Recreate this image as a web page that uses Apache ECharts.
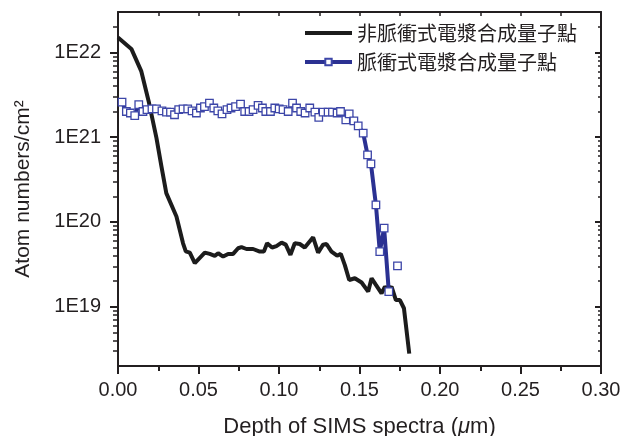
<!DOCTYPE html>
<html>
<head>
<meta charset="utf-8">
<script src="https://cdn.jsdelivr.net/npm/echarts@6/dist/echarts.min.js"></script>
<style>
  html, body { margin: 0; padding: 0; background: #fff; }
  #chart { width: 622px; height: 436px; }
</style>
</head>
<body>
<div id="chart"></div>
<script>
// depth (um) and concentration (atoms/cm2)
const plainName = '非脈衝式電漿合成量子點';
const plainDepth = [0.0, 0.0083, 0.0145, 0.0193, 0.0239, 0.027, 0.030, 0.0363, 0.0404, 0.0421,
  0.0446, 0.0477, 0.0539, 0.0570, 0.0601, 0.0622, 0.0653, 0.0684, 0.0715, 0.0746,
  0.0767, 0.0798, 0.0839, 0.0881, 0.0906, 0.0926, 0.0957, 0.0984, 0.1016, 0.1042,
  0.1071, 0.1098, 0.1129, 0.1160, 0.1212, 0.1243, 0.1274, 0.1295, 0.1326, 0.1361,
  0.1384, 0.1409, 0.1436, 0.1471, 0.1513, 0.1554, 0.1575, 0.1602, 0.1637, 0.1658,
  0.1678, 0.1699, 0.1726, 0.1751, 0.1776, 0.1809];
const plainConc = [1.5e22, 1.1e22, 5.97e21, 2.53e21, 9.76e20, 4.5e20, 2.19e20, 1.16e20, 5.6e19, 4.5e19,
  4.35e19, 3.27e19, 4.35e19, 4.2e19, 3.98e19, 4.28e19, 3.91e19, 4.2e19, 4.2e19, 4.9e19,
  5.05e19, 4.8e19, 4.8e19, 4.47e19, 4.47e19, 5.6e19, 5.0e19, 5.2e19, 5.7e19, 5.4e19,
  4.1e19, 5.6e19, 5.5e19, 5.0e19, 6.6e19, 4.35e19, 5.4e19, 5.5e19, 4.47e19, 4.0e19,
  4.2e19, 3.1e19, 2.07e19, 2.17e19, 1.93e19, 1.51e19, 2.17e19, 1.81e19, 1.44e19, 1.73e19,
  1.58e19, 1.73e19, 1.2e19, 1.2e19, 9.6e18, 2.8e18];

const pulsedName = '脈衝式電漿合成量子點';
const pulsedDepth = [0.0025, 0.0052, 0.0077, 0.0104, 0.0129, 0.0155, 0.0180, 0.0211, 0.0239, 0.0273,
  0.0301, 0.0326, 0.0351, 0.0377, 0.0404, 0.0433, 0.0460, 0.0487, 0.0512, 0.0537,
  0.0568, 0.0595, 0.0620, 0.0646, 0.0677, 0.0702, 0.0730, 0.0761, 0.0787, 0.0814,
  0.0839, 0.0870, 0.0897, 0.0918, 0.0947, 0.0974, 0.1001, 0.1025, 0.1057, 0.1084,
  0.1109, 0.1135, 0.1162, 0.1191, 0.1223, 0.1247, 0.1274, 0.1305, 0.1332, 0.1361,
  0.1382, 0.1415, 0.1436, 0.1465, 0.1492, 0.1523, 0.1550, 0.1571, 0.1602, 0.1626,
  0.1653, 0.1682, 0.1710, 0.1736];
// null = the line is broken there
const pulsedConc = [2.59e21, 2.01e21, 1.93e21, 1.80e21, 2.42e21, 2.01e21, 2.11e21, 2.16e21, 2.16e21, 2.05e21,
  1.98e21, 1.98e21, 1.84e21, 2.11e21, 2.16e21, 2.16e21, 2.05e21, 1.93e21, 2.21e21, 2.30e21,
  2.53e21, 2.21e21, 2.05e21, 1.88e21, 2.11e21, 2.21e21, 2.30e21, 2.46e21, 2.01e21, 2.01e21,
  2.11e21, 2.37e21, 2.21e21, 2.01e21, 2.01e21, 2.21e21, 2.16e21, 2.11e21, 2.01e21, 2.53e21,
  2.21e21, 2.01e21, 1.93e21, 2.21e21, 1.98e21, 1.71e21, 1.98e21, 1.98e21, 1.98e21, 1.93e21,
  2.01e21, 1.60e21, 1.88e21, 1.56e21, 1.36e21, 1.12e21, 6.2e20, 4.85e20, 1.59e20, 4.47e19,
  8.45e19, 1.51e19, null, 3.03e19];

const xTicks = [0, 0.05, 0.10, 0.15, 0.20, 0.25, 0.30];
const yDecades = [1e19, 1e20, 1e21, 1e22];

const yMin = 2e18, yMax = 3e22;
const yMinor = [];
[18, 19, 20, 21, 22].forEach(e => {
  for (let k = 2; k <= 9; k++) {
    const v = k * Math.pow(10, e);
    if (v >= yMin && v <= yMax) yMinor.push(v);
  }
});

const font = 'Liberation Sans, Arial, sans-serif';
const ink = '#231f20';
const black = '#1c1c1c';
const navy = '#2b3192';

const chart = echarts.init(document.getElementById('chart'), null, { renderer: 'canvas' });

const yAxisBase = (pos, show) => ({
  type: 'log',
  position: pos,
  min: yMin,
  max: yMax,
  splitLine: { show: false },
  axisLine: { show: show, lineStyle: { color: ink, width: 2 } },
});

chart.setOption({
  animation: false,
  backgroundColor: '#fff',
  textStyle: { fontFamily: font, color: ink },
  grid: { left: 118, right: 21, top: 12, bottom: 70, containLabel: false, outerBoundsMode: 'none' },
  legend: {
    orient: 'vertical',
    left: 298,
    top: 18,
    itemWidth: 47,
    itemHeight: 8,
    itemGap: 9,
    lineStyle: { width: 4 },
    data: [
      { name: plainName, itemStyle: { opacity: 0 } },
      { name: pulsedName },
    ],
    textStyle: { fontFamily: 'Noto Sans CJK TC', fontSize: 20, color: ink },
  },
  xAxis: [
    {
      type: 'value',
      min: 0,
      max: 0.30,
      interval: 0.05,
      name: 'Depth of SIMS spectra ({i|μ}m)',
      nameLocation: 'middle',
      nameGap: 50,
      nameTextStyle: {
        fontSize: 22, color: ink, fontFamily: font,
        rich: { i: { fontStyle: 'italic', fontSize: 22, fontFamily: font, color: ink } },
      },
      axisLine: { lineStyle: { color: ink, width: 2 } },
      axisTick: { length: 8, lineStyle: { color: ink, width: 2 } },
      minorTick: { show: true, splitNumber: 2, length: 5, lineStyle: { color: ink, width: 2 } },
      axisLabel: {
        fontSize: 20, color: ink, margin: 14,
        customValues: xTicks,
        formatter: v => v.toFixed(2),
      },
      splitLine: { show: false },
    },
    {
      type: 'value',
      position: 'top',
      min: 0,
      max: 0.30,
      interval: 0.025,
      axisLine: { lineStyle: { color: ink, width: 2 } },
      axisTick: { inside: true, length: 4, lineStyle: { color: ink, width: 1.5 } },
      axisLabel: { show: false },
      splitLine: { show: false },
    },
  ],
  yAxis: [
    Object.assign(yAxisBase('left', true), {
      name: 'Atom numbers/cm²',
      nameLocation: 'middle',
      nameGap: 84,
      nameTextStyle: { fontSize: 21, color: ink, fontFamily: font },
      axisTick: { customValues: yDecades, length: 8, lineStyle: { color: ink, width: 2 } },
      axisLabel: {
        customValues: yDecades, fontSize: 20, color: ink, margin: 17,
        formatter: v => '1E' + Math.round(Math.log10(v)),
      },
    }),
    Object.assign(yAxisBase('left', false), {
      axisTick: { customValues: yMinor, length: 5, lineStyle: { color: ink, width: 1.5 } },
      axisLabel: { show: false },
    }),
    Object.assign(yAxisBase('right', true), {
      axisTick: { customValues: yDecades, inside: true, length: 6, lineStyle: { color: ink, width: 2 } },
      axisLabel: { show: false },
    }),
    Object.assign(yAxisBase('right', false), {
      axisTick: { customValues: yMinor, inside: true, length: 3, lineStyle: { color: ink, width: 1.5 } },
      axisLabel: { show: false },
    }),
  ],
  series: [
    {
      name: plainName,
      type: 'line',
      xAxisIndex: 0,
      yAxisIndex: 0,
      symbol: 'none',
      data: plainDepth.map((d, i) => [d, plainConc[i]]),
      lineStyle: { color: black, width: 4 },
      itemStyle: { color: black },
      z: 2,
    },
    {
      name: pulsedName,
      type: 'line',
      xAxisIndex: 0,
      yAxisIndex: 0,
      symbol: 'rect',
      symbolSize: 7.5,
      showAllSymbol: true,
      connectNulls: false,
      data: pulsedDepth.map((d, i) => [d, pulsedConc[i] === null ? '-' : pulsedConc[i]]),
      lineStyle: { color: navy, width: 4 },
      itemStyle: { color: '#ffffff', borderColor: '#3d46a8', borderWidth: 1.3 },
      z: 3,
    },
  ],
});
</script>
</body>
</html>
